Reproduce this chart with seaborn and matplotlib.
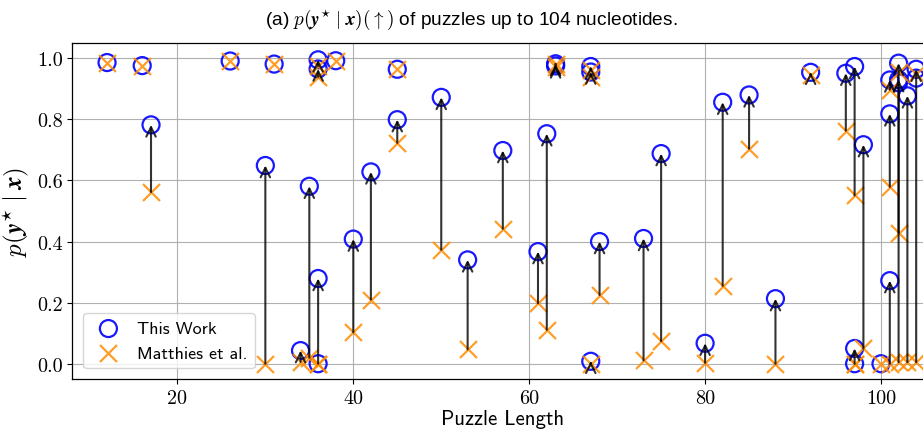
import matplotlib
matplotlib.use("Agg")
import matplotlib.pyplot as plt
import seaborn as sns
import pandas as pd

# ---- data ----
puzzle_length = [12, 16, 17, 26, 30, 31, 34, 35, 36, 36, 36, 36, 38, 40, 42, 45, 45,
                 50, 53, 57, 61, 62, 63, 63, 67, 67, 67, 68, 73, 75, 80, 82, 85, 88,
                 92, 96, 97, 97, 97, 98, 100, 101, 101, 101, 102, 102, 102, 103, 104, 104]
this_work = [0.986, 0.976, 0.782, 0.991, 0.649, 0.981, 0.043, 0.581, 0.995, 0.965, 0.279, 0.0,
             0.992, 0.408, 0.628, 0.964, 0.799, 0.872, 0.340, 0.698, 0.367, 0.753, 0.982,
             0.975, 0.973, 0.955, 0.008, 0.400, 0.410, 0.688, 0.067, 0.856, 0.880, 0.213,
             0.954, 0.951, 0.973, 0.050, 0.0, 0.717, 0.0, 0.929, 0.818, 0.272, 0.984,
             0.930, 0.920, 0.877, 0.964, 0.935]
matthies = [0.986, 0.976, 0.562, 0.991, 0.0, 0.981, 0.006, 0.020, 0.975, 0.940, 0.0, 0.0,
            0.992, 0.103, 0.210, 0.964, 0.723, 0.373, 0.047, 0.442, 0.198, 0.111, 0.980,
            0.970, 0.960, 0.940, 0.0, 0.225, 0.011, 0.074, 0.003, 0.255, 0.704, 0.0,
            0.945, 0.763, 0.551, 0.0, 0.0, 0.050, 0.0, 0.897, 0.579, 0.0, 0.005,
            0.429, 0.955, 0.005, 0.005, 0.950]

x_ticks = [20, 40, 60, 80, 100]
y_ticks = [0.0, 0.2, 0.4, 0.6, 0.8, 1.0]

df = pd.DataFrame({"length": puzzle_length, "this": this_work, "matthies": matthies})

plt.rcParams["mathtext.fontset"] = "cm"

W, H = 923, 431
fig = plt.figure(figsize=(W / 100, H / 100), dpi=100)

xlim = (8.05, 105.8)
px_per_unit = 8.795
ax_left_px = 72.3
ax_right_px = ax_left_px + (xlim[1] - xlim[0]) * px_per_unit
ax_top_px, ax_bot_px = 44, 380
ax = fig.add_axes([ax_left_px / W, 1 - ax_bot_px / H,
                   (ax_right_px - ax_left_px) / W, (ax_bot_px - ax_top_px) / H])

sns.scatterplot(data=df, x="length", y="this", ax=ax, marker="o", s=150,
                facecolors="none", edgecolor="blue", linewidth=1.6, alpha=0.9,
                label="This Work", zorder=3)
sns.scatterplot(data=df, x="length", y="matthies", ax=ax, marker="x", s=150,
                color="darkorange", linewidth=1.6, alpha=0.85,
                label="Matthies et al.", zorder=3)

for xv, a, b in zip(df["length"], df["this"], df["matthies"]):
    if a - b > 1e-9:
        ax.annotate("", xy=(xv, a), xytext=(xv, b),
                    arrowprops=dict(arrowstyle="->", color="black", lw=1.5,
                                    alpha=0.8, shrinkA=0, shrinkB=0,
                                    mutation_scale=17),
                    zorder=4)

ax.set_xlim(*xlim)
ax.set_ylim(-0.05, 1.05)
ax.set_xticks(x_ticks)
ax.set_yticks(y_ticks)
ax.set_xticklabels([str(t) for t in x_ticks], fontfamily="cmr10", fontsize=14.5)
ax.set_yticklabels([f"{t:.1f}" for t in y_ticks], fontfamily="cmr10", fontsize=14.5)
ax.grid(True, color="#b0b0b0", linewidth=0.8)
ax.set_axisbelow(True)
for s in ax.spines.values():
    s.set_color("black")
    s.set_linewidth(0.9)

ax.set_xlabel("Puzzle Length", fontfamily="cmss10", fontsize=15, labelpad=2)
ax.set_ylabel(r"$p(\boldsymbol{y}^{\star}\;|\;\boldsymbol{x})$", fontsize=18, labelpad=4)

leg = ax.legend(loc="lower left", prop={"family": "cmss10", "size": 13},
                frameon=True, borderaxespad=0.6, handletextpad=0.6)
leg.get_frame().set_edgecolor("#cccccc")

fig.text(471 / W, 1 - 20 / H,
         r"(a) $p(\boldsymbol{y}^{\star}\;|\;\boldsymbol{x})(\uparrow)$ of puzzles up to 104 nucleotides.",
         ha="center", va="center", fontsize=13.8, fontfamily="Liberation Sans")

fig.savefig("out.png", dpi=100)
